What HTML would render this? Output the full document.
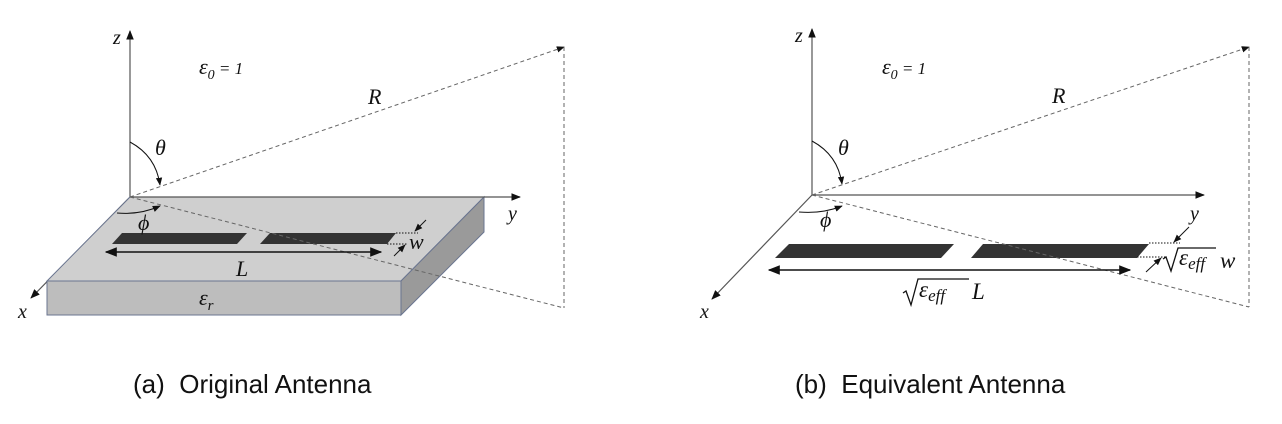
<!DOCTYPE html>
<html><head><meta charset="utf-8"><style>
html,body{margin:0;padding:0;background:#fff;width:1282px;height:424px;overflow:hidden}
svg{display:block}
.m{font-family:"Liberation Serif",serif;font-style:italic;fill:#111}
.c{font-family:"Liberation Sans",sans-serif;font-size:26px;fill:#111}
</style></head><body>
<svg width="1282" height="424" viewBox="0 0 1282 424" xmlns="http://www.w3.org/2000/svg">
<defs>
<marker id="a" viewBox="0 0 10 10" refX="9" refY="5" markerWidth="8" markerHeight="8" orient="auto-start-reverse"><path d="M0,1 L10,5 L0,9 z" fill="#111"/></marker>
</defs>
<!-- LEFT -->
<g stroke="#555" stroke-width="1.2" fill="none">
<line x1="130" y1="197" x2="130" y2="31" marker-end="url(#a)"/>
<line x1="130" y1="197" x2="31" y2="298" marker-end="url(#a)"/>
</g>
<polygon points="130,197 484,197 401,281 47,281" fill="#cfcfcf" stroke="#6a7590" stroke-width="1"/>
<polygon points="47,281 401,281 401,315 47,315" fill="#bdbdbd" stroke="#6a7590" stroke-width="1"/>
<polygon points="401,281 484,197 484,232 401,315" fill="#9a9a9a" stroke="#6a7590" stroke-width="1"/>
<line x1="130" y1="197" x2="520" y2="197" stroke="#555" stroke-width="1.2" marker-end="url(#a)"/>
<polygon points="122,233 247,233 237,244 112,244" fill="#333"/>
<polygon points="270,233 396,233 387,244 260,244" fill="#333"/>
<g stroke="#666" stroke-width="1" fill="none" stroke-dasharray="4,3">
<line x1="130" y1="197" x2="564" y2="47" marker-end="url(#a)"/>
<line x1="130" y1="197" x2="564" y2="308"/>
<line x1="564" y1="47" x2="564" y2="308"/>
</g>
<g stroke="#111" stroke-width="1" fill="none">
<line x1="396" y1="233" x2="418" y2="233" stroke-dasharray="1.5,1.5"/>
<line x1="387" y1="244" x2="408" y2="244" stroke-dasharray="1.5,1.5"/>
<line x1="426" y1="220" x2="415" y2="231" marker-end="url(#a)"/>
<line x1="394" y1="256" x2="405" y2="245" marker-end="url(#a)"/>
<line x1="106" y1="252" x2="381" y2="252" stroke-width="1.5" marker-start="url(#a)" marker-end="url(#a)"/>
<path d="M130,142 Q156,156 160,185" marker-end="url(#a)"/>
<path d="M117,213 Q140,215 160,206" marker-end="url(#a)"/>
</g>
<text class="m" x="113" y="44" font-size="20">z</text>
<text class="m" x="199" y="74" font-size="22">ε<tspan font-size="14" dy="5">0</tspan><tspan dy="-5" font-size="17"> = 1</tspan></text>
<text class="m" x="368" y="104" font-size="22">R</text>
<text class="m" x="155" y="155" font-size="22">θ</text>
<text class="m" x="138" y="230" font-size="22">ϕ</text>
<text class="m" x="236" y="276" font-size="22">L</text>
<text class="m" x="409" y="249" font-size="22">w</text>
<text class="m" x="199" y="305" font-size="22">ε<tspan font-size="15" dy="5">r</tspan></text>
<text class="m" x="18" y="318" font-size="20">x</text>
<text class="m" x="508" y="220" font-size="20">y</text>
<text class="c" x="133" y="393">(a)&#160; Original Antenna</text>

<!-- RIGHT -->
<g stroke="#555" stroke-width="1.2" fill="none">
<line x1="812" y1="195" x2="812" y2="29" marker-end="url(#a)"/>
<line x1="812" y1="195" x2="712" y2="299" marker-end="url(#a)"/>
<line x1="812" y1="195" x2="1204" y2="195" marker-end="url(#a)"/>
</g>
<polygon points="789,244 954,244 941,258 775,258" fill="#333"/>
<polygon points="983,244 1149,244 1137,258 971,258" fill="#333"/>
<g stroke="#666" stroke-width="1" fill="none" stroke-dasharray="4,3">
<line x1="812" y1="195" x2="1249" y2="47" marker-end="url(#a)"/>
<line x1="812" y1="195" x2="1249" y2="307"/>
<line x1="1249" y1="47" x2="1249" y2="307"/>
</g>
<g stroke="#111" stroke-width="1" fill="none">
<line x1="1149" y1="243" x2="1180" y2="243" stroke-dasharray="1.5,1.5"/>
<line x1="1137" y1="257" x2="1167" y2="257" stroke-dasharray="1.5,1.5"/>
<line x1="1189" y1="227" x2="1174" y2="242" marker-end="url(#a)"/>
<line x1="1146" y1="272" x2="1161" y2="258" marker-end="url(#a)"/>
<line x1="769" y1="270" x2="1130" y2="270" stroke-width="1.5" marker-start="url(#a)" marker-end="url(#a)"/>
<path d="M812,141 Q838,155 842,184" marker-end="url(#a)"/>
<path d="M799,212 Q822,214 842,206" marker-end="url(#a)"/>
</g>
<text class="m" x="795" y="42" font-size="20">z</text>
<text class="m" x="882" y="74" font-size="22">ε<tspan font-size="14" dy="5">0</tspan><tspan dy="-5" font-size="17"> = 1</tspan></text>
<text class="m" x="1052" y="103" font-size="22">R</text>
<text class="m" x="838" y="155" font-size="22">θ</text>
<text class="m" x="820" y="227" font-size="22">ϕ</text>
<text class="m" x="1190" y="220" font-size="20">y</text>
<text class="m" x="700" y="318" font-size="20">x</text>
<!-- sqrt eff L -->
<path d="M903,293 L906,291 L911,305 L918,279 L969,279" stroke="#111" stroke-width="1.3" fill="none"/>
<text class="m" x="919" y="297" font-size="23" font-style="normal">ε<tspan font-size="17" dy="4" font-style="italic">eff</tspan></text>
<text class="m" x="972" y="299" font-size="23">L</text>
<!-- sqrt eff w -->
<path d="M1163,259 L1166,257 L1171,271 L1178,248 L1216,248" stroke="#111" stroke-width="1.3" fill="none"/>
<text class="m" x="1179" y="265" font-size="23" font-style="normal">ε<tspan font-size="17" dy="4" font-style="italic">eff</tspan></text>
<text class="m" x="1220" y="268" font-size="23" font-style="normal">w</text>
<text class="c" x="795" y="393">(b)&#160; Equivalent Antenna</text>
</svg>
</body></html>
